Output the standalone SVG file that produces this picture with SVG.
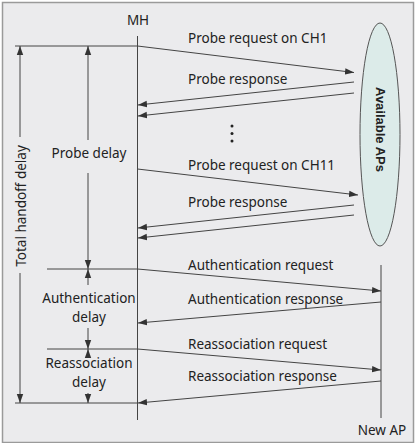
<svg xmlns="http://www.w3.org/2000/svg" width="418" height="443" viewBox="0 0 418 443">
<style>
.t{font-family:"Noto Sans","Liberation Sans",sans-serif;font-size:13.5px;fill:#222}
.m{text-anchor:middle}
.ln{stroke:#444;stroke-width:1;fill:none}
.ar{stroke:#444;stroke-width:1;fill:none;marker-end:url(#ah)}
</style>
<defs>
<marker id="ah" markerWidth="10" markerHeight="8" refX="9" refY="4" orient="auto" markerUnits="userSpaceOnUse">
<path d="M0,0.8 L9,4 L0,7.2 Z" fill="#333"/>
</marker>
</defs>
<rect x="0" y="0" width="418" height="443" fill="#ffffff"/>
<rect x="2.5" y="2.5" width="411" height="440" fill="#ebebed" stroke="#9a9a9a" stroke-width="1.5"/>

<g id="MH">
<text class="t m" x="138" y="25">MH</text>
<line class="ln" x1="137.5" y1="36" x2="137.5" y2="420"/>
</g>
<g id="NewAP">
<line class="ln" x1="381" y1="265" x2="381" y2="418"/>
<text class="t m" x="382" y="435">New AP</text>
</g>
<g id="AvailableAPs">
<ellipse cx="380" cy="134.5" rx="20" ry="111.5" fill="#dcebe9" stroke="#555" stroke-width="1"/>
<text transform="translate(380,129.5) rotate(90)" text-anchor="middle" dominant-baseline="central" style="font-family:'Liberation Sans',Arial,sans-serif;font-weight:bold;font-size:13px;fill:#222">Available APs</text>
</g>

<g id="delays">
<line class="ln" x1="15" y1="46" x2="137.5" y2="46"/>
<line class="ln" x1="47" y1="269" x2="137.5" y2="269"/>
<line class="ln" x1="47" y1="349" x2="137.5" y2="349"/>
<line class="ln" x1="15" y1="403" x2="137.5" y2="403"/>
<line class="ar" x1="20" y1="137" x2="20" y2="46"/>
<line class="ar" x1="20" y1="273" x2="20" y2="403"/>
<text class="t m" transform="translate(25.5,206) rotate(-90)">Total handoff delay</text>
<line class="ar" x1="88" y1="140" x2="88" y2="46"/>
<text class="t m" x="89" y="158">Probe delay</text>
<line class="ar" x1="88" y1="173" x2="88" y2="269"/>
<line class="ar" x1="88" y1="285" x2="88" y2="269"/>
<text class="t m" x="89" y="303">Authentication</text>
<text class="t m" x="89" y="321.5">delay</text>
<line class="ar" x1="88" y1="328" x2="88" y2="349"/>
<line class="ar" x1="88" y1="357" x2="88" y2="349"/>
<text class="t m" x="89" y="368">Reassociation</text>
<text class="t m" x="89" y="386.5">delay</text>
<line class="ar" x1="88" y1="393" x2="88" y2="403"/>
</g>

<g id="connectors">
<line class="ar" x1="137.5" y1="46" x2="354" y2="72.5"/>
<line class="ar" x1="354" y1="82" x2="138" y2="105"/>
<line class="ar" x1="354" y1="93" x2="138" y2="116"/>
<line class="ar" x1="137.5" y1="169" x2="358" y2="195"/>
<line class="ar" x1="354" y1="205" x2="138" y2="228"/>
<line class="ar" x1="354" y1="215" x2="138" y2="238"/>
<line class="ar" x1="137.5" y1="269" x2="381" y2="291"/>
<line class="ar" x1="381" y1="302" x2="138" y2="323"/>
<line class="ar" x1="137.5" y1="349" x2="381" y2="370"/>
<line class="ar" x1="381" y1="381" x2="138" y2="403"/>
<circle cx="232" cy="126" r="1.5" fill="#222"/>
<circle cx="232" cy="133.5" r="1.5" fill="#222"/>
<circle cx="232" cy="141" r="1.5" fill="#222"/>
</g>

<g id="labels">
<text class="t" x="188" y="43">Probe request on CH1</text>
<text class="t" x="188" y="84">Probe response</text>
<text class="t" x="188" y="170">Probe request on CH11</text>
<text class="t" x="188" y="207">Probe response</text>
<text class="t" x="188" y="270">Authentication request</text>
<text class="t" x="188" y="304">Authentication response</text>
<text class="t" x="188" y="349">Reassociation request</text>
<text class="t" x="188" y="381">Reassociation response</text>
</g>
</svg>
